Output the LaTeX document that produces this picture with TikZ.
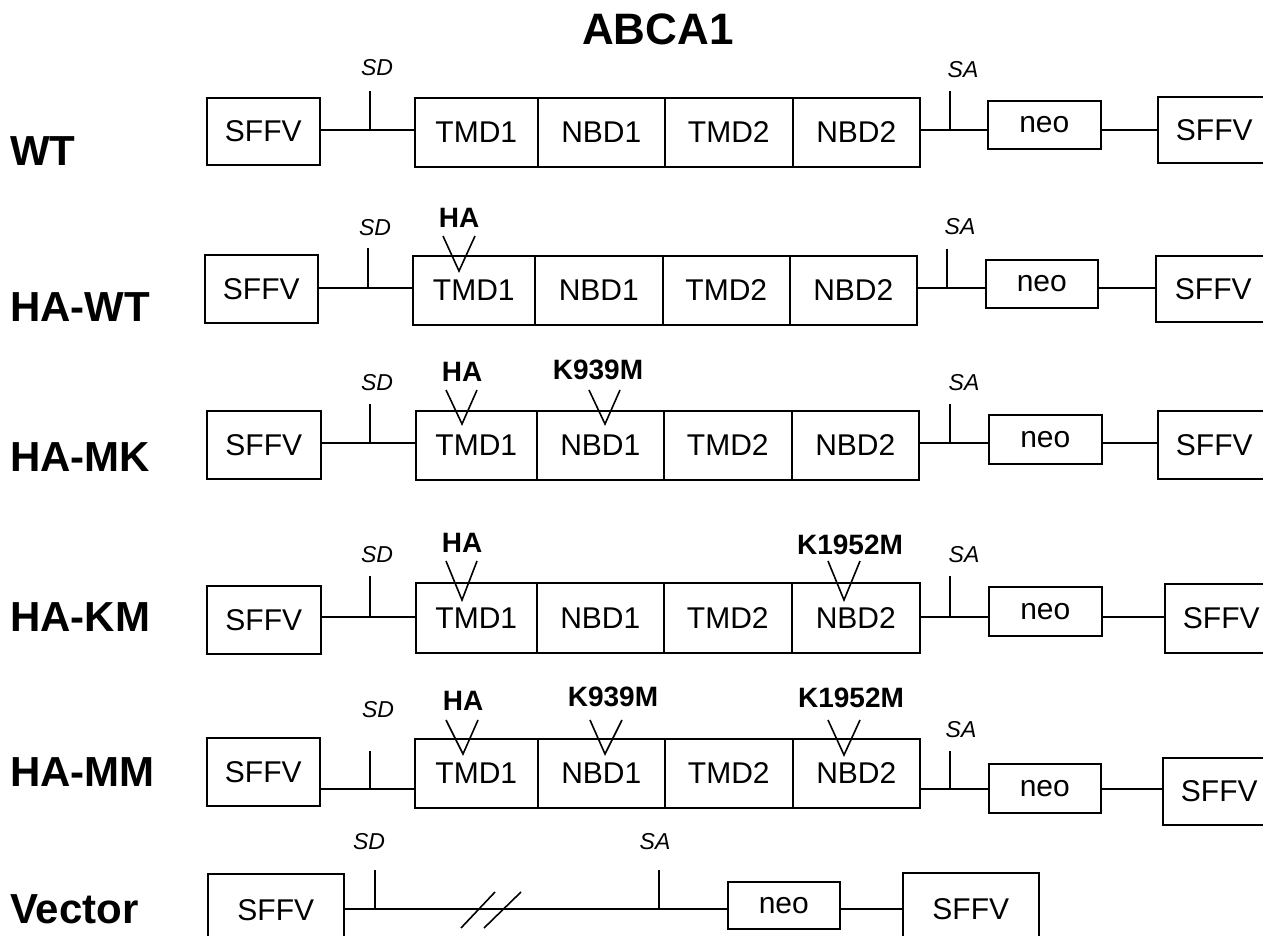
\documentclass[tikz,border=0pt]{standalone}
\usepackage{fontspec}
\setmainfont{Liberation Sans}
\begin{document}
\begin{tikzpicture}[x=1pt,y=-1pt,
  box/.style={draw, line width=1.6pt, inner sep=0pt, anchor=north west, font=\fontsize{30}{36}\selectfont},
  rowlab/.style={anchor=west, inner sep=0pt, font=\fontsize{42}{50}\selectfont\bfseries},
  site/.style={inner sep=0pt, font=\fontsize{23}{28}\selectfont\itshape},
  mut/.style={inner sep=0pt, font=\fontsize{28}{34}\selectfont\bfseries},
  wire/.style={line width=1.6pt},
  veeline/.style={line width=1.6pt, line join=miter}
]
\clip (0,0) rectangle (1263,936);
\fill[white] (0,0) rectangle (1263,936);

\node[inner sep=0pt, font=\fontsize{44}{52}\selectfont\bfseries] (title) at (658,29) {ABCA1};

% ---------------- WT ----------------
\node[rowlab] (wtlab) at (10,151) {WT};
\node[box, minimum width=113pt, minimum height=67pt] (wtL) at (206,97) {SFFV};
\node[box, minimum width=123pt, minimum height=69pt] (wtA) at (414,97) {TMD1};
\node[box, minimum width=127pt, minimum height=69pt] (wtB) at (537,97) {NBD1};
\node[box, minimum width=128pt, minimum height=69pt] (wtC) at (664,97) {TMD2};
\node[box, minimum width=127pt, minimum height=69pt] (wtD) at (792,97) {NBD2};
\node[box, minimum width=113pt, minimum height=48pt] (wtN) at (987,100) {neo};
\node[box, minimum width=113pt, minimum height=66pt] (wtR) at (1157,96) {SFFV};
\coordinate (wtsd) at (370,130); \coordinate (wtsdt) at (370,91);
\coordinate (wtsa) at (950,130); \coordinate (wtsat) at (950,91);
\draw[wire] (wtL.east |- wtsd) -- (wtA.west |- wtsd);
\draw[wire] (wtsd) -- (wtsdt);
\draw[wire] (wtD.east |- wtsa) -- (wtN.west |- wtsa);
\draw[wire] (wtsa) -- (wtsat);
\draw[wire] (wtN.east |- wtsa) -- (wtR.west |- wtsa);
\node[site] (wtsdl) at (377,68) {SD};
\node[site] (wtsal) at (963,70) {SA};

% ---------------- HA-WT ----------------
\node[rowlab] (hwlab) at (10,307) {HA-WT};
\node[box, minimum width=113pt, minimum height=68pt] (hwL) at (204,254) {SFFV};
\node[box, minimum width=122pt, minimum height=69pt] (hwA) at (412,255) {TMD1};
\node[box, minimum width=128pt, minimum height=69pt] (hwB) at (534,255) {NBD1};
\node[box, minimum width=127pt, minimum height=69pt] (hwC) at (662,255) {TMD2};
\node[box, minimum width=127pt, minimum height=69pt] (hwD) at (789,255) {NBD2};
\node[box, minimum width=112pt, minimum height=48pt] (hwN) at (985,259) {neo};
\node[box, minimum width=115pt, minimum height=66pt] (hwR) at (1155,255) {SFFV};
\coordinate (hwsd) at (368,288); \coordinate (hwsdt) at (368,248);
\coordinate (hwsa) at (947,288); \coordinate (hwsat) at (947,249);
\draw[wire] (hwL.east |- hwsd) -- (hwA.west |- hwsd);
\draw[wire] (hwsd) -- (hwsdt);
\draw[wire] (hwD.east |- hwsa) -- (hwN.west |- hwsa);
\draw[wire] (hwsa) -- (hwsat);
\draw[wire] (hwN.east |- hwsa) -- (hwR.west |- hwsa);
\node[site] (hwsdl) at (375,228) {SD};
\node[site] (hwsal) at (960,227) {SA};
\node[mut] (hwha) at (459,218) {HA};
\draw[veeline] (443,236) -- (459,271) -- (475,236);

% ---------------- HA-MK ----------------
\node[rowlab] (mklab) at (10,457) {HA-MK};
\node[box, minimum width=114pt, minimum height=68pt] (mkL) at (206,410) {SFFV};
\node[box, minimum width=121pt, minimum height=69pt] (mkA) at (415,410) {TMD1};
\node[box, minimum width=127pt, minimum height=69pt] (mkB) at (536,410) {NBD1};
\node[box, minimum width=128pt, minimum height=69pt] (mkC) at (663,410) {TMD2};
\node[box, minimum width=127pt, minimum height=69pt] (mkD) at (791,410) {NBD2};
\node[box, minimum width=113pt, minimum height=49pt] (mkN) at (988,414) {neo};
\node[box, minimum width=113pt, minimum height=68pt] (mkR) at (1157,410) {SFFV};
\coordinate (mksd) at (370,443); \coordinate (mksdt) at (370,404);
\coordinate (mksa) at (950,443); \coordinate (mksat) at (950,404);
\draw[wire] (mkL.east |- mksd) -- (mkA.west |- mksd);
\draw[wire] (mksd) -- (mksdt);
\draw[wire] (mkD.east |- mksa) -- (mkN.west |- mksa);
\draw[wire] (mksa) -- (mksat);
\draw[wire] (mkN.east |- mksa) -- (mkR.west |- mksa);
\node[site] (mksdl) at (377,383) {SD};
\node[site] (mksal) at (964,383) {SA};
\node[mut] (mkha) at (462,372) {HA};
\draw[veeline] (446,390) -- (462,424) -- (477,390);
\node[mut] (mkk9) at (598,370) {K939M};
\draw[veeline] (589,390) -- (605,424) -- (620,390);

% ---------------- HA-KM ----------------
\node[rowlab] (kmlab) at (10,617) {HA-KM};
\node[box, minimum width=114pt, minimum height=68pt] (kmL) at (206,585) {SFFV};
\node[box, minimum width=121pt, minimum height=70pt] (kmA) at (415,582) {TMD1};
\node[box, minimum width=127pt, minimum height=70pt] (kmB) at (536,582) {NBD1};
\node[box, minimum width=128pt, minimum height=70pt] (kmC) at (663,582) {TMD2};
\node[box, minimum width=128pt, minimum height=70pt] (kmD) at (791,582) {NBD2};
\node[box, minimum width=113pt, minimum height=49pt] (kmN) at (988,586) {neo};
\node[box, minimum width=113pt, minimum height=69pt] (kmR) at (1164,583) {SFFV};
\coordinate (kmsd) at (370,617); \coordinate (kmsdt) at (370,576);
\coordinate (kmsa) at (950,617); \coordinate (kmsat) at (950,576);
\draw[wire] (kmL.east |- kmsd) -- (kmA.west |- kmsd);
\draw[wire] (kmsd) -- (kmsdt);
\draw[wire] (kmD.east |- kmsa) -- (kmN.west |- kmsa);
\draw[wire] (kmsa) -- (kmsat);
\draw[wire] (kmN.east |- kmsa) -- (kmR.west |- kmsa);
\node[site] (kmsdl) at (377,555) {SD};
\node[site] (kmsal) at (964,555) {SA};
\node[mut] (kmha) at (462,543) {HA};
\draw[veeline] (446,561) -- (462,600) -- (477,561);
\node[mut] (kmk19) at (850,545) {K1952M};
\draw[veeline] (828,561) -- (844,600) -- (860,561);

% ---------------- HA-MM ----------------
\node[rowlab] (mmlab) at (10,772) {HA-MM};
\node[box, minimum width=113pt, minimum height=68pt] (mmL) at (206,737) {SFFV};
\node[box, minimum width=123pt, minimum height=69pt] (mmA) at (414,738) {TMD1};
\node[box, minimum width=127pt, minimum height=69pt] (mmB) at (537,738) {NBD1};
\node[box, minimum width=128pt, minimum height=69pt] (mmC) at (664,738) {TMD2};
\node[box, minimum width=127pt, minimum height=69pt] (mmD) at (792,738) {NBD2};
\node[box, minimum width=112pt, minimum height=49pt] (mmN) at (988,763) {neo};
\node[box, minimum width=113pt, minimum height=67pt] (mmR) at (1162,757) {SFFV};
\coordinate (mmsd) at (370,789); \coordinate (mmsdt) at (370,751);
\coordinate (mmsa) at (950,789); \coordinate (mmsat) at (950,751);
\draw[wire] (mmL.east |- mmsd) -- (mmA.west |- mmsd);
\draw[wire] (mmsd) -- (mmsdt);
\draw[wire] (mmD.east |- mmsa) -- (mmN.west |- mmsa);
\draw[wire] (mmsa) -- (mmsat);
\draw[wire] (mmN.east |- mmsa) -- (mmR.west |- mmsa);
\node[site] (mmsdl) at (378,710) {SD};
\node[site] (mmsal) at (961,730) {SA};
\node[mut] (mmha) at (463,701) {HA};
\draw[veeline] (446,720) -- (463,754) -- (478,720);
\node[mut] (mmk9) at (613,697) {K939M};
\draw[veeline] (590,720) -- (605,754) -- (622,720);
\node[mut] (mmk19) at (851,698) {K1952M};
\draw[veeline] (828,720) -- (844,755) -- (860,720);

% ---------------- Vector ----------------
\node[rowlab] (veclab) at (10,909) {Vector};
\node[box, minimum width=136pt, minimum height=72pt] (vL) at (207,873) {SFFV};
\node[box, minimum width=112pt, minimum height=47pt] (vN) at (727,881) {neo};
\node[box, minimum width=136pt, minimum height=73pt] (vR) at (902,872) {SFFV};
\coordinate (vsd) at (375,909); \coordinate (vsdt) at (375,870);
\coordinate (vsa) at (659,909); \coordinate (vsat) at (659,870);
\draw[wire] (vL.east |- vsd) -- (vN.west |- vsd);
\draw[wire] (vsd) -- (vsdt);
\draw[wire] (vsa) -- (vsat);
\draw[wire] (vN.east |- vsd) -- (vR.west |- vsd);
\draw[wire] (461,928) -- (495,892);
\draw[wire] (484,928) -- (521,892);
\node[site] (vsdl) at (369,842) {SD};
\node[site] (vsal) at (655,842) {SA};
\end{tikzpicture}
\end{document}
